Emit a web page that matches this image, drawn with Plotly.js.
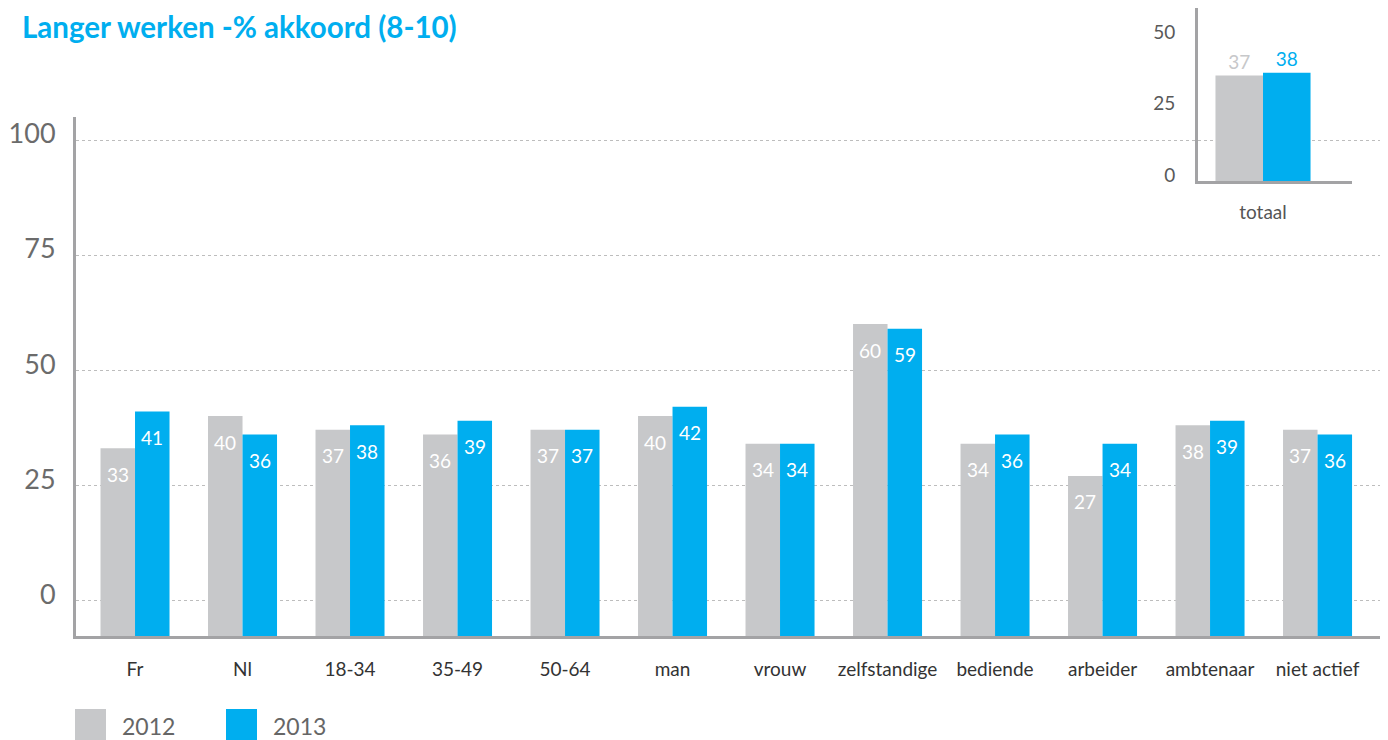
<!DOCTYPE html>
<html>
<head>
<meta charset="utf-8">
<script src="https://cdn.plot.ly/plotly-3.0.1.min.js"></script>
<style>html,body{margin:0;padding:0;background:#fff;}#chart{width:1388px;height:740px;}</style>
</head>
<body>
<div id="chart"></div>
<script>
const titleText = 'Langer werken -% akkoord (8-10)';
const categories = ['Fr','Nl','18-34','35-49','50-64','man','vrouw','zelfstandige','bediende','arbeider','ambtenaar','niet actief'];
const seriesNames = ['2012','2013'];
const values2012 = [33,40,37,36,37,40,34,60,34,27,38,37];
const values2013 = [41,36,38,39,37,42,34,59,36,34,39,36];
const mainTicks = [0,25,50,75,100];
const totalCategory = ['totaal'];
const total2012 = [37];
const total2013 = [38];
const insetTicks = [0,25,50];

const W = 1388, H = 740;
const px = x => x / W;
const py = y => 1 - y / H;

const GREY = '#C7C8CA', BLUE = '#00AEEF';
const FONT = 'Lato, "Open Sans", sans-serif';
const yBottom = -7.8;

const traces = [
  {type:'bar', name:seriesNames[0], x:categories, y:values2012.map(v => v - yBottom), base:yBottom,
   marker:{color:GREY}, xaxis:'x', yaxis:'y', showlegend:false, hoverinfo:'skip'},
  {type:'bar', name:seriesNames[1], x:categories, y:values2013.map(v => v - yBottom), base:yBottom,
   marker:{color:BLUE}, xaxis:'x', yaxis:'y', showlegend:false, hoverinfo:'skip'},
  {type:'bar', name:seriesNames[0], x:totalCategory, y:total2012, marker:{color:GREY},
   xaxis:'x2', yaxis:'y2', showlegend:false, hoverinfo:'skip',
   text:total2012.map(String), textposition:'outside', cliponaxis:false,
   textfont:{family:FONT, size:19, color:GREY}},
  {type:'bar', name:seriesNames[1], x:totalCategory, y:total2013, marker:{color:BLUE},
   xaxis:'x2', yaxis:'y2', showlegend:false, hoverinfo:'skip',
   text:total2013.map(String), textposition:'outside', cliponaxis:false,
   textfont:{family:FONT, size:19, color:BLUE}}
];

// value labels inside bars, near the top
const halfBar = 107.5 * (1 - 0.358) / 4;
const annotations = [];
categories.forEach((c, i) => {
  annotations.push({x:c, y:values2012[i], xref:'x', yref:'y', text:String(values2012[i]),
    showarrow:false, xshift:-halfBar, yshift:-26, font:{family:FONT, size:19, color:'#ffffff'}});
  annotations.push({x:c, y:values2013[i], xref:'x', yref:'y', text:String(values2013[i]),
    showarrow:false, xshift:halfBar, yshift:-26, font:{family:FONT, size:19, color:'#ffffff'}});
});

// custom legend
const legendColors = [GREY, BLUE];
const legendX = [75, 226];
const shapes = [];
seriesNames.forEach((n, i) => {
  shapes.push({type:'rect', xref:'paper', yref:'paper', x0:px(legendX[i]), x1:px(legendX[i] + 31),
    y0:py(741), y1:py(709), fillcolor:legendColors[i], line:{width:0}});
  annotations.push({xref:'paper', yref:'paper', x:px(legendX[i] + 45), y:py(726), xanchor:'left', yanchor:'middle',
    text:n, showarrow:false, font:{family:FONT, size:23, color:'#666666'}});
});

const layout = {
  width:W, height:H,
  margin:{l:0, r:0, t:0, b:0},
  paper_bgcolor:'#ffffff', plot_bgcolor:'rgba(0,0,0,0)',
  barmode:'group', bargap:0.358, bargroupgap:0,
  title:{text:titleText, x:px(22), xanchor:'left', xref:'paper', y:py(28), yanchor:'middle',
    font:{family:FONT, size:29.5, color:'#00AEEF', weight:'bold'}},
  font:{family:FONT},
  xaxis:{domain:[px(76), px(1380)], range:[-0.549, 11.581], type:'category',
    showline:true, linecolor:'#A3A3A5', linewidth:3, showgrid:false, ticks:'',
    tickfont:{family:FONT, size:19, color:'#333333'}, ticklabelstandoff:14, anchor:'y', fixedrange:true},
  yaxis:{domain:[py(636), py(117)], range:[yBottom, 105], tickvals:mainTicks,
    showline:true, linecolor:'#A3A3A5', linewidth:3, showgrid:true, gridcolor:'#BDBDBD', griddash:'dot', gridwidth:1,
    zeroline:false, ticks:'', tickfont:{family:FONT, size:27, color:'#6B6B6B'},
    ticklabelstandoff:12, ticklabelshift:-6, anchor:'x', fixedrange:true},
  xaxis2:{domain:[px(1198), px(1352)], range:[-0.439, 0.601], type:'category',
    showline:true, linecolor:'#A3A3A5', linewidth:3, showgrid:false, ticks:'',
    tickfont:{family:FONT, size:19, color:'#555555'}, ticklabelstandoff:12, anchor:'y2', fixedrange:true},
  yaxis2:{domain:[py(181), py(8)], range:[0, 60.7], tickvals:insetTicks,
    showline:true, linecolor:'#A3A3A5', linewidth:3, showgrid:false, zeroline:false, ticks:'',
    tickfont:{family:FONT, size:19, color:'#595959'}, ticklabelstandoff:16, ticklabelshift:-6, anchor:'x2', fixedrange:true},
  annotations:annotations,
  shapes:shapes
};

Plotly.newPlot('chart', traces, layout, {displayModeBar:false, staticPlot:true});
</script>
</body>
</html>
